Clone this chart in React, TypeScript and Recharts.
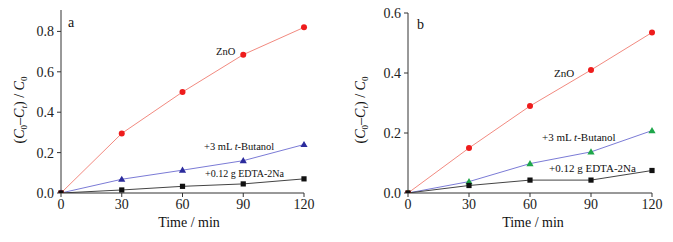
import React from "react";
import { LineChart, Line, XAxis, YAxis } from "recharts";

const times = [0, 30, 60, 90, 120];
const aZnO = [0, 0.295, 0.5, 0.685, 0.82];
const aButanol = [0, 0.068, 0.113, 0.16, 0.24];
const aEdta = [0, 0.015, 0.033, 0.045, 0.07];
const bZnO = [0, 0.15, 0.29, 0.41, 0.535];
const bButanol = [0, 0.038, 0.098, 0.137, 0.208];
const bEdta = [0, 0.025, 0.043, 0.043, 0.075];

const xTicks = [0, 30, 60, 90, 120];
const xMinor = [15, 45, 75, 105];
const aYTicks = [0, 0.2, 0.4, 0.6, 0.8];
const aYMinor = [0.1, 0.3, 0.5, 0.7];
const bYTicks = [0, 0.2, 0.4, 0.6];
const bYMinor = [0.1, 0.3, 0.5];

const FONT = "'Liberation Serif', 'Times New Roman', serif";
const AXIS = "#333";

const toRows = (zno: number[], but: number[], edta: number[]) =>
  times.map((t, i) => ({ t, zno: zno[i], but: but[i], edta: edta[i] }));

const circleDot = (color: string) => (p: any) =>
  <circle key={p.index} cx={p.cx} cy={p.cy} r={3} fill={color} stroke="none" />;

const triDot = (color: string) => (p: any) => (
  <path
    key={p.index}
    d={`M${p.cx},${p.cy - 3.6} L${p.cx + 3.6},${p.cy + 2.6} L${p.cx - 3.6},${p.cy + 2.6} Z`}
    fill={color}
  />
);

const squareDot = (color: string) => (p: any) =>
  <rect key={p.index} x={p.cx - 2.6} y={p.cy - 2.6} width={5.2} height={5.2} fill={color} />;

type PanelProps = {
  left: number;
  width: number;
  yWidth: number;
  margin: { top: number; right: number; bottom: number; left: number };
  rows: any[];
  yMax: number;
  yTicks: number[];
  yMinor: number[];
  triColor: string;
};

function Panel({ left, width, yWidth, margin, rows, yMax, yTicks, yMinor, triColor }: PanelProps) {
  const tickStyle = { fontSize: 14, fill: "#222", fontFamily: FONT };
  return (
    <div style={{ position: "absolute", left, top: 0 }}>
      <LineChart width={width} height={242} data={rows} margin={margin}>
        <XAxis
          xAxisId="main"
          dataKey="t"
          type="number"
          domain={[0, 120]}
          ticks={xTicks}
          interval={0}
          height={30}
          tickSize={4}
          tickMargin={2}
          tick={tickStyle}
          stroke={AXIS}
          tickLine={{ stroke: AXIS }}
        />
        <XAxis
          xAxisId="minor"
          dataKey="t"
          type="number"
          domain={[0, 120]}
          ticks={xMinor}
          interval={0}
          height={0}
          tickSize={2.5}
          axisLine={false}
          tick={false}
          tickLine={{ stroke: AXIS }}
        />
        <YAxis
          yAxisId="main"
          type="number"
          domain={[0, yMax]}
          ticks={yTicks}
          interval={0}
          width={yWidth}
          tickSize={4}
          tickMargin={3}
          tick={tickStyle}
          tickFormatter={(v: number) => v.toFixed(1)}
          stroke={AXIS}
          tickLine={{ stroke: AXIS }}
          allowDataOverflow
        />
        <YAxis
          yAxisId="minor"
          type="number"
          domain={[0, yMax]}
          ticks={yMinor}
          interval={0}
          width={0}
          tickSize={2.5}
          axisLine={false}
          tick={false}
          tickLine={{ stroke: AXIS }}
          allowDataOverflow
        />
        <Line
          xAxisId="main"
          yAxisId="main"
          type="linear"
          dataKey="zno"
          stroke="#f28a80"
          strokeWidth={1}
          dot={circleDot("#ee1c1c")}
          isAnimationActive={false}
        />
        <Line
          xAxisId="main"
          yAxisId="main"
          type="linear"
          dataKey="but"
          stroke="#7b7bd6"
          strokeWidth={1}
          dot={triDot(triColor)}
          isAnimationActive={false}
        />
        <Line
          xAxisId="main"
          yAxisId="main"
          type="linear"
          dataKey="edta"
          stroke="#444"
          strokeWidth={1}
          dot={squareDot("#111")}
          isAnimationActive={false}
        />
      </LineChart>
    </div>
  );
}

const Txt = ({ x, y, size, children, center }: any) => (
  <div
    style={{
      position: "absolute",
      left: x,
      top: y,
      fontSize: size,
      lineHeight: 1,
      fontFamily: FONT,
      color: "#111",
      whiteSpace: "nowrap",
      transform: center ? "translate(-50%,-50%)" : "translateY(-50%)",
    }}
  >
    {children}
  </div>
);

const YTitle = ({ x, y }: { x: number; y: number }) => {
  const sub = { fontSize: 9, verticalAlign: "-3px", lineHeight: 1 } as const;
  return (
    <div
      style={{
        position: "absolute",
        left: x,
        top: y,
        fontSize: 14,
        lineHeight: 1,
        fontFamily: FONT,
        color: "#111",
        whiteSpace: "nowrap",
        transform: "translate(-50%,-50%) rotate(-90deg)",
      }}
    >
      (<i>C</i>
      <span style={sub}>0</span>–<i>C</i>
      <i style={sub}>t</i>) / <i>C</i>
      <span style={sub}>0</span>
    </div>
  );
};

export default function App() {
  return (
    <div style={{ position: "absolute", left: 0, top: 0, width: 673, height: 242, background: "#fff" }}>
      <Panel
        left={0}
        width={340}
        yWidth={61}
        margin={{ top: 10, right: 36, bottom: 19, left: 0 }}
        rows={toRows(aZnO, aButanol, aEdta)}
        yMax={0.906}
        yTicks={aYTicks}
        yMinor={aYMinor}
        triColor="#2b2b9c"
      />
      <Panel
        left={340}
        width={333}
        yWidth={68}
        margin={{ top: 13, right: 21, bottom: 19, left: 0 }}
        rows={toRows(bZnO, bButanol, bEdta)}
        yMax={0.6}
        yTicks={bYTicks}
        yMinor={bYMinor}
        triColor="#1ea64a"
      />
      <YTitle x={21} y={110} />
      <YTitle x={362} y={110} />
      <Txt x={189} y={223} size={14} center>Time / min</Txt>
      <Txt x={533} y={223} size={14} center>Time / min</Txt>
      <Txt x={68} y={23} size={14}>a</Txt>
      <Txt x={417} y={25} size={14}>b</Txt>
      <Txt x={216} y={52} size={10.5}>ZnO</Txt>
      <Txt x={204} y={147} size={10.5}>+3 mL <i>t</i>-Butanol</Txt>
      <Txt x={205} y={174} size={10}>+0.12 g EDTA-2Na</Txt>
      <Txt x={554} y={73} size={11}>ZnO</Txt>
      <Txt x={542} y={137} size={11}>+3 mL <i>t</i>-Butanol</Txt>
      <Txt x={549} y={168} size={11}>+0.12 g EDTA-2Na</Txt>
    </div>
  );
}
